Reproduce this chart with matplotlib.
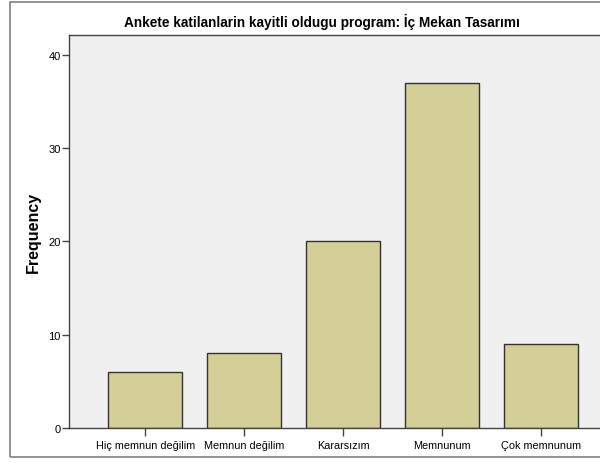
import numpy as np
import matplotlib
matplotlib.use("Agg")
import matplotlib.pyplot as plt
from matplotlib.patches import Rectangle

plt.rcParams['font.family'] = ['Liberation Sans', 'DejaVu Sans']

categories = ['Hiç memnun değilim', 'Memnun değilim', 'Kararsızım', 'Memnunum', 'Çok memnunum']
frequency = [6, 8, 20, 37, 9]
title = 'Ankete katilanlarin kayitli oldugu program: İç Mekan Tasarımı'

fig = plt.figure(figsize=(6, 4.64), dpi=100)
fig.patch.set_facecolor('white')

# outer chart frame (SPSS style)
fig.patches.append(Rectangle((10 / 600, 6 / 464), 1.2, 455 / 464, transform=fig.transFigure,
                             fill=False, edgecolor='#808080', linewidth=1.2))

ax = fig.add_axes([69 / 600, 35 / 464, 548 / 600, 393 / 464])
ax.set_facecolor('#F0F0F0')
x = np.arange(len(categories))
ax.bar(x, frequency, width=0.75, color='#D3CF96', edgecolor='#333333', linewidth=1.0)

ax.set_xlim(-0.77, 4.77)
ax.set_ylim(0, 42.1)
ax.set_yticks([0, 10, 20, 30, 40])
ax.set_xticks(x)
ax.set_xticklabels(categories, fontsize=7.8)
ax.tick_params(axis='y', labelsize=8, length=5, width=1, color='#444444', pad=1)
ax.tick_params(axis='x', length=6, width=1, color='#444444', pad=3)
for s in ax.spines.values():
    s.set_color('#444444')
    s.set_linewidth(1)

ax.set_ylabel('Frequency', fontsize=11.5, fontweight='bold', labelpad=5)
fig.text(322 / 600, 1 - 22 / 464, title, ha='center', va='center', fontsize=9.8, fontweight='bold')

fig.savefig('out.png', dpi=100)
